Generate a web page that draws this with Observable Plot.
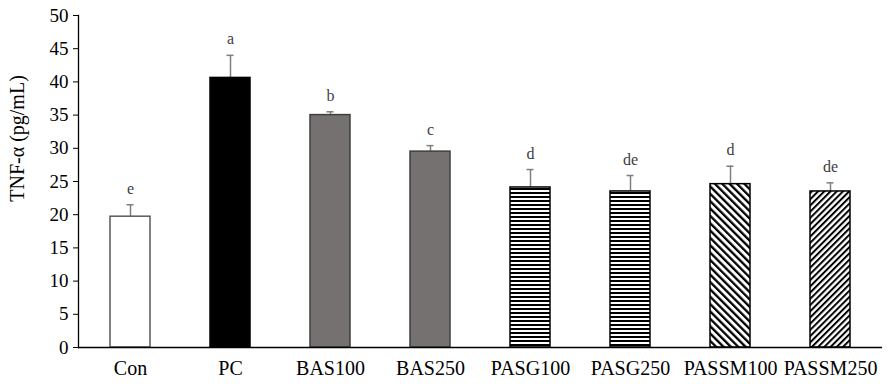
<!DOCTYPE html>
<html><head><meta charset="utf-8">
<script src="https://cdn.jsdelivr.net/npm/d3@7"></script>
<script src="https://cdn.jsdelivr.net/npm/@observablehq/plot@0.6"></script>
<style>
body{margin:0;background:#fff}
svg{font-family:"Liberation Serif","Times New Roman",serif}
</style>
</head><body><div id="chart"></div>
<script>
const groups = ["Con","PC","BAS100","BAS250","PASG100","PASG250","PASSM100","PASSM250"];
const means = [19.7, 40.6, 35.0, 29.5, 24.1, 23.5, 24.6, 23.5];
const errors = [1.8, 3.4, 0.5, 0.9, 2.7, 2.4, 2.7, 1.3];
const letters = ["e","a","b","c","d","de","d","de"];
const fills = ["#ffffff","#000000","#767171","#767171","url(#hstripe)","url(#hstripe)","url(#dstripeB)","url(#dstripeF)"];
const strokes = ["#595959","#000000","#3f3f3f","#3f3f3f","#000000","#000000","#000000","#000000"];
const yTicks = [0,5,10,15,20,25,30,35,40,45,50];
const yTitle = "TNF-α (pg/mL)";

const data = groups.map((g,i) => ({g, m: means[i], e: errors[i], top: means[i] + errors[i], l: letters[i], f: fills[i], s: strokes[i]}));

const svg = Plot.plot({
  width: 896, height: 389,
  marginTop: 15, marginBottom: 42, marginLeft: 78, marginRight: 14,
  style: {fontFamily: '"Liberation Serif","Times New Roman",serif', background: "#fff", color: "#000"},
  x: {domain: groups, paddingInner: 0.6, paddingOuter: 0.3, label: null},
  y: {domain: [0, 50], label: null},
  color: {type: "identity"},
  marks: [
    Plot.ruleX(data, {x: "g", y1: "m", y2: "top", stroke: "#7f7f7f", strokeWidth: 1.5}),
    Plot.tickY(data, {x: "g", y: "top", stroke: "#7f7f7f", strokeWidth: 1.5, insetLeft: 16.5, insetRight: 16.5}),
    Plot.barY(data, {x: "g", y: "m", fill: "f", stroke: "s", strokeWidth: 1.5}),
    Plot.text(data, {x: "g", y: "top", text: "l", lineAnchor: "bottom", dy: -11, fontSize: 16, fill: "#404040"}),
    Plot.axisY({ticks: yTicks, tickSize: 5, tickPadding: 5, fontSize: 19, label: null, stroke: "#000"}),
    Plot.axisX({tickSize: 0, tickPadding: 13, fontSize: 20, label: null}),
    Plot.frame({anchor: "left", stroke: "#000", strokeWidth: 1.3}),
    Plot.ruleY([0], {stroke: "#000", strokeWidth: 1.3}),
    Plot.text([yTitle], {frameAnchor: "left", textAnchor: "middle", rotate: -90, dx: -61, dy: -43, fontSize: 20, fill: "#000"})
  ]
});

const defs = d3.select(svg).insert("defs", ":first-child");
const h = defs.append("pattern").attr("id","hstripe").attr("patternUnits","userSpaceOnUse").attr("width",4).attr("height",4);
h.append("rect").attr("width",4).attr("height",4).attr("fill","#fff");
h.append("rect").attr("width",4).attr("height",2).attr("fill","#000");
const mk = (id, size, w, angle) => {
  const p = defs.append("pattern").attr("id",id).attr("patternUnits","userSpaceOnUse").attr("width",size).attr("height",size).attr("patternTransform",`rotate(${angle})`);
  p.append("rect").attr("width",size).attr("height",size).attr("fill","#fff");
  p.append("rect").attr("width",w).attr("height",size).attr("fill","#000");
};
mk("dstripeB", 5.2, 2.3, -45);
mk("dstripeF", 4.4, 2.0, 45);

document.getElementById("chart").appendChild(svg);
</script>
</body></html>
